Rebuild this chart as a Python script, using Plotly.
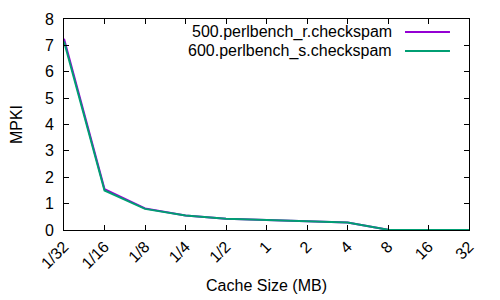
import plotly.graph_objects as go

cache_sizes = [1/32, 1/16, 1/8, 1/4, 1/2, 1, 2, 4, 8, 16, 32]
tick_labels = ["1/32", "1/16", "1/8", "1/4", "1/2", "1", "2", "4", "8", "16", "32"]
mpki_500 = [7.25, 1.55, 0.82, 0.55, 0.43, 0.38, 0.34, 0.28, 0.01, 0.0, 0.0]
mpki_600 = [7.15, 1.50, 0.80, 0.55, 0.43, 0.38, 0.34, 0.28, 0.01, 0.0, 0.0]
series_names = ["500.perlbench_r.checkspam", "600.perlbench_s.checkspam"]
colors = ["#9400D3", "#009E73"]

FONT = "Liberation Sans, Arial, sans-serif"
FS = 16

fig = go.Figure()
for name, ys, c in zip(series_names, [mpki_500, mpki_600], colors):
    fig.add_trace(go.Scatter(x=cache_sizes, y=ys, mode="lines", name=name,
                             line=dict(color=c, width=2), showlegend=False))

# gnuplot-style legend: right-aligned text with line sample on the right
legend_y = [0.938, 0.848]
for name, c, ly in zip(series_names, colors, legend_y):
    fig.add_annotation(xref="paper", yref="paper", x=0.815, y=ly, text=name,
                       showarrow=False, xanchor="right", yanchor="middle",
                       font=dict(family=FONT, size=FS, color="black"))
    fig.add_shape(type="line", xref="paper", yref="paper",
                  x0=0.842, x1=0.953, y0=ly, y1=ly, line=dict(color=c, width=2))

axis_common = dict(showline=True, linecolor="black", linewidth=1, mirror="ticks",
                   ticks="inside", ticklen=5, tickcolor="black", showgrid=False,
                   zeroline=False, automargin=False,
                   tickfont=dict(family=FONT, size=FS, color="black"))

fig.update_xaxes(type="log", tickvals=cache_sizes, ticktext=tick_labels,
                 tickangle=-45, range=[-5 * 0.30103, 5 * 0.30103],
                 title=dict(text="Cache Size (MB)", font=dict(family=FONT, size=FS, color="black"),
                            standoff=8),
                 **axis_common)
fig.update_yaxes(range=[0, 8], dtick=1, ticklabelstandoff=6,
                 title=dict(text="MPKI", font=dict(family=FONT, size=FS, color="black"),
                            standoff=19),
                 **axis_common)

# page body adds an 8px offset; size the figure to fit the 500x300 window
fig.update_layout(width=492, height=292, margin=dict(l=56, r=31, t=11, b=70),
                  plot_bgcolor="white", paper_bgcolor="white",
                  font=dict(family=FONT, size=FS, color="black"))

fig.write_html("out.html")
